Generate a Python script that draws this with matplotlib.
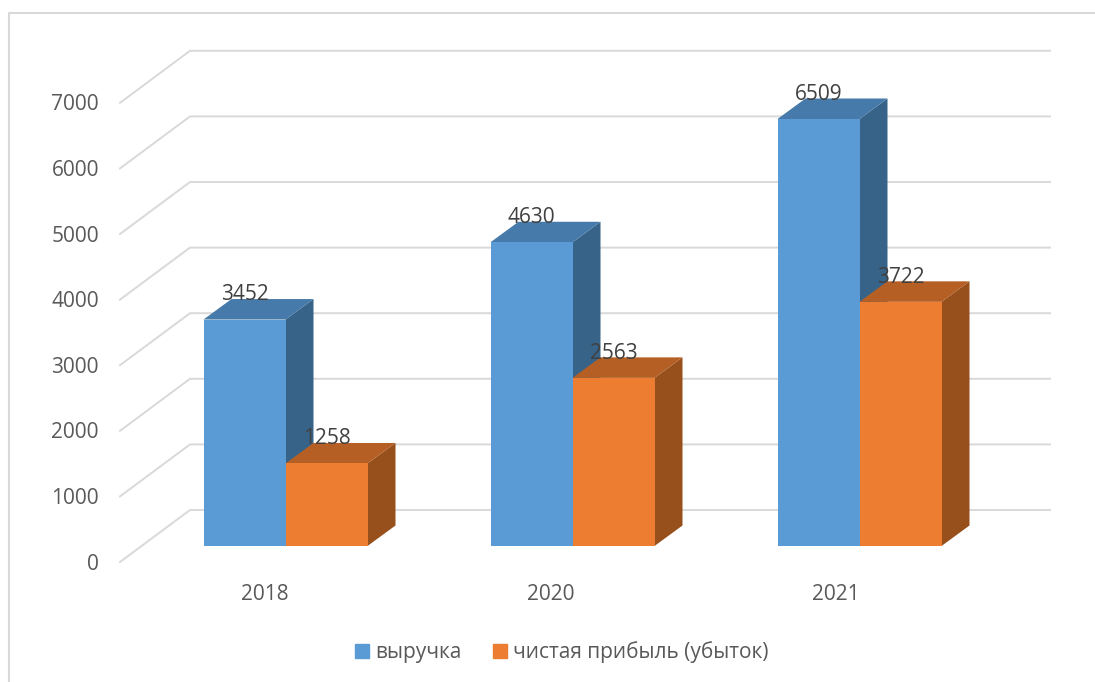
import matplotlib
matplotlib.use("Agg")
import matplotlib.pyplot as plt
from matplotlib.patches import Patch, Polygon, Rectangle

plt.rcParams['font.family'] = ['Open Sans', 'DejaVu Sans']

years = ['2018', '2020', '2021']
revenue = [3452, 4630, 6509]
profit = [1258, 2563, 3722]
y_ticks = [0, 1000, 2000, 3000, 4000, 5000, 6000, 7000]

names = ['выручка', 'чистая прибыль (убыток)']
BLUE = ('#5b9bd5', '#467aaa', '#376389')
ORANGE = ('#ed7d31', '#b55f25', '#974f1c')
GRID = '#d9d9d9'

PX = 1000 / 65.6  # value units per pixel
W, H = 1095, 682
BASE = 546  # pixel row of value 0 on the bars' front plane


def box(ax, x, width, value, colors):
    # front face plus oblique top and side
    dx, dy = 28, 20.5 * PX
    ax.add_patch(Polygon([(x + width, 0), (x + width + dx, dy),
                          (x + width + dx, value + dy), (x + width, value)],
                         fc=colors[2], ec='none', zorder=3))
    ax.add_patch(Polygon([(x, value), (x + dx, value + dy),
                          (x + width + dx, value + dy), (x + width, value)],
                         fc=colors[1], ec='none', zorder=3))
    ax.add_patch(Rectangle((x, 0), width, value, fc=colors[0], ec='none', zorder=3))


fig = plt.figure(figsize=(W / 100, H / 100), dpi=100)
ax = fig.add_axes([0, 0, 1, 1])
ax.set_xlim(0, W)
ax.set_ylim(-(H - BASE) * PX, BASE * PX)
ax.axis('off')

# outer chart frame, open on the right and bottom
frame_y = (BASE - 13) * PX
ax.plot([9, 9, W], [-(H - BASE) * PX, frame_y, frame_y], color=GRID, lw=1.5, zorder=1)

# wall and floor grid
for t in y_ticks:
    ax.plot([120, 190, 1050], [t - 16 * PX, t + 36 * PX, t + 36 * PX],
            color=GRID, lw=1.4, zorder=2, solid_joinstyle='miter')
    ax.annotate(str(t), (99, t - 15.5 * PX), ha='right', va='center_baseline',
                fontsize=15, color='#595959')

bar_w = 82
start = 203.5
step = 287
for i, year in enumerate(years):
    x = start + i * step
    box(ax, x, bar_w, revenue[i], BLUE)
    box(ax, x + bar_w, bar_w, profit[i], ORANGE)
    ax.annotate(str(revenue[i]), (x + bar_w / 2, revenue[i]), xytext=(0, 19.5),
                textcoords='offset points', ha='center', va='center_baseline',
                fontsize=15, color='#404040', zorder=5)
    ax.annotate(str(profit[i]), (x + bar_w * 1.5, profit[i]), xytext=(0, 19.5),
                textcoords='offset points', ha='center', va='center_baseline',
                fontsize=15, color='#404040', zorder=5)
    ax.annotate(year, (265 + i * 285.5, -46 * PX), ha='center', va='center_baseline',
                fontsize=15, color='#595959')

handles = [Patch(color=BLUE[0], label=names[0]), Patch(color=ORANGE[0], label=names[1])]
fig.legend(handles=handles, loc='center', bbox_to_anchor=(562 / W, 1 - 652.5 / H), ncol=2,
           frameon=False, fontsize=15, labelcolor='#595959', handlelength=0.67,
           handleheight=0.67, handletextpad=0.29, columnspacing=1.5, borderpad=0)

fig.savefig('out.png', dpi=100)
